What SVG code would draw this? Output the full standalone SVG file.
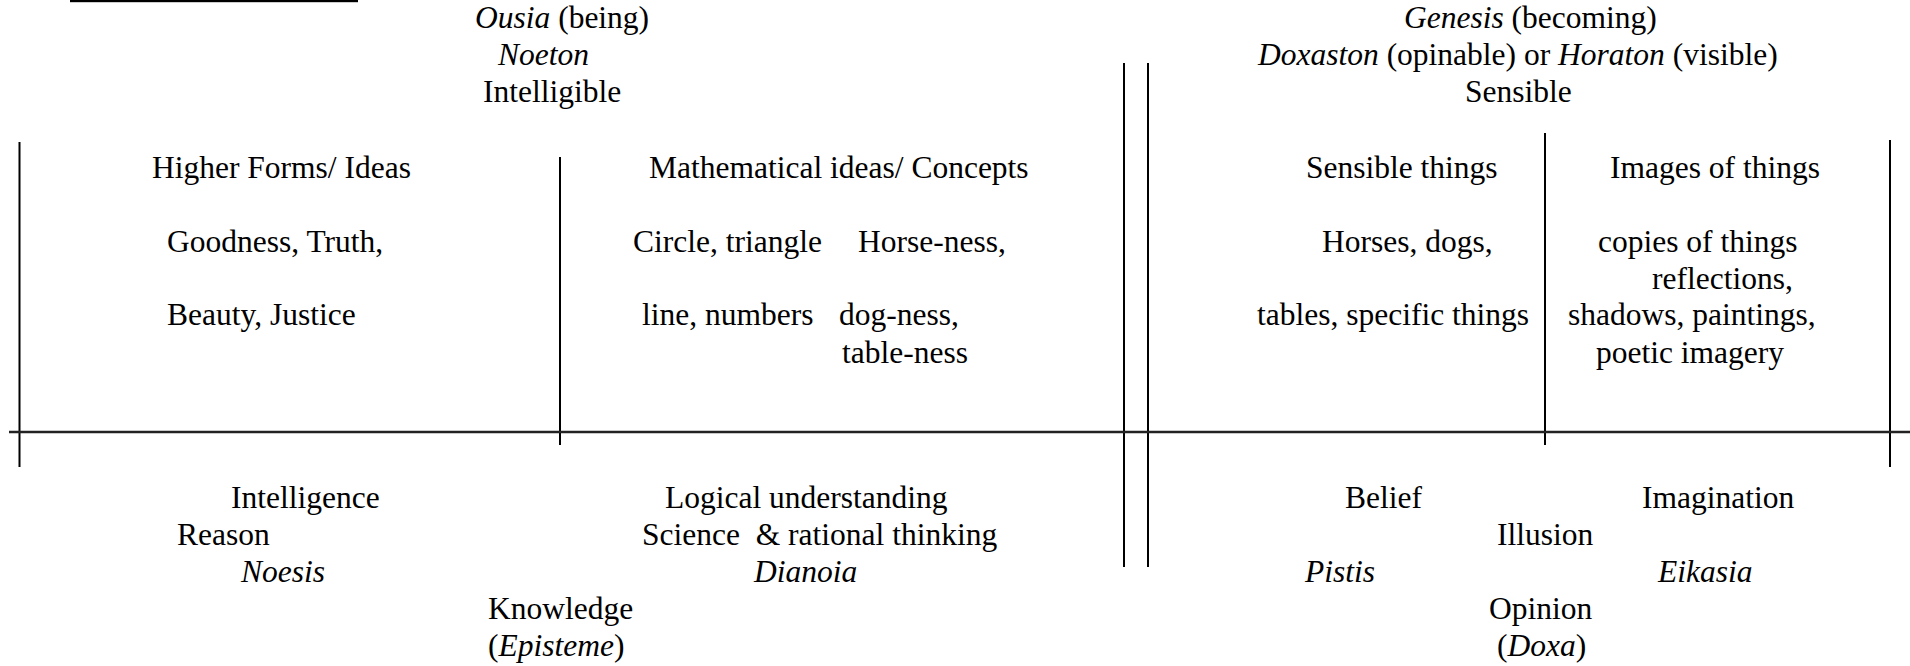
<svg xmlns="http://www.w3.org/2000/svg" width="1910" height="666" viewBox="0 0 1910 666">
<style>
text { font-family: "Liberation Serif", "Times New Roman", serif; font-size: 31.5px; fill: #000; }
.it { font-style: italic; }
.ln { stroke: #000; stroke-width: 2; fill: none; }
.hl { stroke: #222; stroke-width: 2.6; fill: none; }
</style>
<rect x="70" y="0" width="288" height="2.2" fill="#000"/>
<g id="lines">
  <line class="ln" x1="1124" y1="63" x2="1124" y2="567"/>
  <line class="ln" x1="1148" y1="63" x2="1148" y2="567"/>
  <line class="ln" x1="19.5" y1="142" x2="19.5" y2="467"/>
  <line class="ln" x1="560" y1="157" x2="560" y2="445"/>
  <line class="ln" x1="1545" y1="133" x2="1545" y2="445"/>
  <line class="ln" x1="1890" y1="140" x2="1890" y2="467"/>
  <line class="hl" x1="9" y1="432" x2="1910" y2="432"/>
</g>
<g id="intelligible-header">
  <text x="475" y="28"><tspan class="it">Ousia</tspan> (being)</text>
  <text x="498" y="65" class="it">Noeton</text>
  <text x="483" y="102">Intelligible</text>
</g>
<g id="sensible-header">
  <text x="1404" y="28"><tspan class="it">Genesis</tspan> (becoming)</text>
  <text x="1258" y="65"><tspan class="it">Doxaston</tspan> (opinable) or <tspan class="it">Horaton</tspan> (visible)</text>
  <text x="1465" y="102">Sensible</text>
</g>
<g id="higher-forms">
  <text x="152" y="178">Higher Forms/ Ideas</text>
  <text x="167" y="252">Goodness, Truth,</text>
  <text x="167" y="325">Beauty, Justice</text>
</g>
<g id="mathematical-ideas">
  <text x="649" y="178">Mathematical ideas/ Concepts</text>
  <text x="633" y="252">Circle, triangle</text>
  <text x="858" y="252">Horse-ness,</text>
  <text x="642" y="325">line, numbers</text>
  <text x="839" y="325">dog-ness,</text>
  <text x="842" y="363">table-ness</text>
</g>
<g id="sensible-things">
  <text x="1306" y="178">Sensible things</text>
  <text x="1322" y="252">Horses, dogs,</text>
  <text x="1257" y="325">tables, specific things</text>
</g>
<g id="images-of-things">
  <text x="1610" y="178">Images of things</text>
  <text x="1598" y="252">copies of things</text>
  <text x="1652" y="289">reflections,</text>
  <text x="1568" y="325">shadows, paintings,</text>
  <text x="1596" y="363">poetic imagery</text>
</g>
<g id="noesis">
  <text x="231" y="508">Intelligence</text>
  <text x="177" y="545">Reason</text>
  <text x="241" y="582" class="it">Noesis</text>
</g>
<g id="knowledge">
  <text x="488" y="619">Knowledge</text>
  <text x="488" y="656">(<tspan class="it">Episteme</tspan>)</text>
</g>
<g id="dianoia">
  <text x="665" y="508">Logical understanding</text>
  <text x="642" y="545" xml:space="preserve">Science  &amp; rational thinking</text>
  <text x="754" y="582" class="it">Dianoia</text>
</g>
<g id="pistis">
  <text x="1345" y="508">Belief</text>
  <text x="1305" y="582" class="it">Pistis</text>
</g>
<g id="eikasia">
  <text x="1642" y="508">Imagination</text>
  <text x="1497" y="545">Illusion</text>
  <text x="1658" y="582" class="it">Eikasia</text>
</g>
<g id="opinion">
  <text x="1489" y="619">Opinion</text>
  <text x="1497" y="656">(<tspan class="it">Doxa</tspan>)</text>
</g>
</svg>
